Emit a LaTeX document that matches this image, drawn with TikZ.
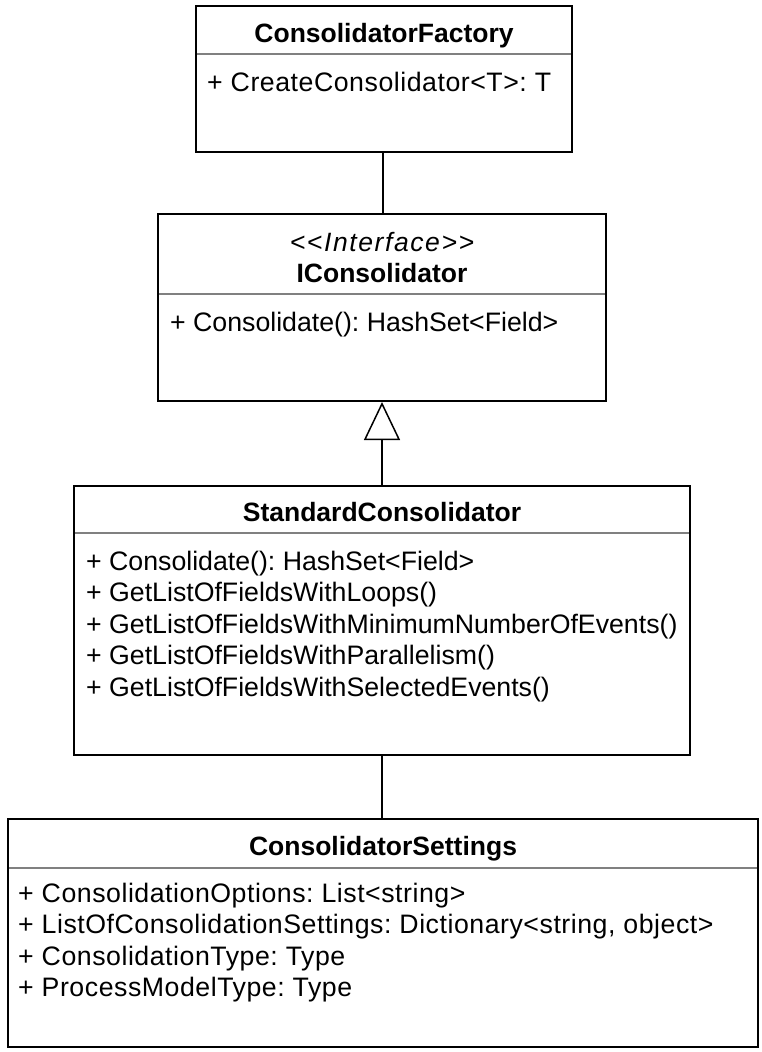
\documentclass[tikz,border=0pt]{standalone}
\usepackage{fontspec}
\setmainfont{Liberation Sans}
\usepackage{tikz}
\usetikzlibrary{arrows.meta}
\frenchspacing

\tikzset{
  classbox/.style={draw, line width=2pt, inner sep=0pt},
  sepline/.style={draw=black!50, line width=1.5pt},
  member/.style={anchor=base west, inner sep=0pt, font=\fontsize{26.7}{31}\selectfont},
  memberwide/.style={member, font=\fontsize{26.7}{31}\selectfont\addfontfeature{LetterSpace=2}},
  classname/.style={anchor=base, inner sep=0pt, font=\fontsize{26.5}{31}\selectfont\bfseries},
  stereotype/.style={anchor=base, inner sep=0pt, font=\fontsize{26.5}{31}\selectfont\itshape\addfontfeature{LetterSpace=6}},
  assoc/.style={line width=1.5pt},
  inherit/.style={line width=1.5pt, -{Triangle[open, length=38pt, width=36pt, line width=1.5pt]}}
}

\begin{document}
\begin{tikzpicture}[x=1pt, y=-1pt]
      \useasboundingbox (0,0) rectangle (762,1052);

      % boxes
      \node[classbox, minimum width=376pt, minimum height=146pt] (factory) at (384,79) {};
      \node[classbox, minimum width=448pt, minimum height=187pt] (iface) at (382,307.5) {};
      \node[classbox, minimum width=616pt, minimum height=269pt] (standard) at (382,620.5) {};
      \node[classbox, minimum width=750pt, minimum height=228pt] (settings) at (383,933) {};

      % compartments
      \draw[sepline] (197,54) -- (571,54);
      \draw[sepline] (159,294) -- (605,294);
      \draw[sepline] (75,533) -- (689,533);
      \draw[sepline] (9,868) -- (757,868);

      % ConsolidatorFactory
      \node[classname] (factoryname) at (384,42) {ConsolidatorFactory};
      \node[memberwide] (factorym1) at (207,91) {+ CreateConsolidator<T>: T};

      % IConsolidator
      \node[stereotype] (ifacestereo) at (382,251) {{<}{<}Interface{>}{>}};
      \node[classname] (ifacename) at (382,282) {IConsolidator};
      \node[member] (ifacem1) at (170,331) {+ Consolidate(): HashSet<Field>};

      % StandardConsolidator
      \node[classname] (standardname) at (382,521) {StandardConsolidator};
      \node[member] (standardm1) at (86,570) {+ Consolidate(): HashSet<Field>};
      \node[member] (standardm2) at (86,601.5) {+ GetListOfFieldsWithLoops()};
      \node[member] (standardm3) at (86,633) {+ GetListOfFieldsWithMinimumNumberOfEvents()};
      \node[member] (standardm4) at (86,664.5) {+ GetListOfFieldsWithParallelism()};
      \node[member] (standardm5) at (86,696) {+ GetListOfFieldsWithSelectedEvents()};

      % ConsolidatorSettings
      \node[classname] (settingsname) at (383,855) {ConsolidatorSettings};
      \node[memberwide] (settingsm1) at (18,902) {+ ConsolidationOptions: List<string>};
      \node[memberwide] (settingsm2) at (18,933.5) {+ ListOfConsolidationSettings: Dictionary<string, object>};
      \node[memberwide] (settingsm3) at (18,965) {+ ConsolidationType: Type};
      \node[memberwide] (settingsm4) at (18,996.5) {+ ProcessModelType: Type};

      % relations
      \draw[assoc] (factory.south -| 383,0) -- (iface.north -| 383,0);
      \draw[inherit] (standard.north) -- (iface.south);
      \draw[assoc] (standard.south) -- (settings.north -| standard.south);
\end{tikzpicture}
\end{document}
